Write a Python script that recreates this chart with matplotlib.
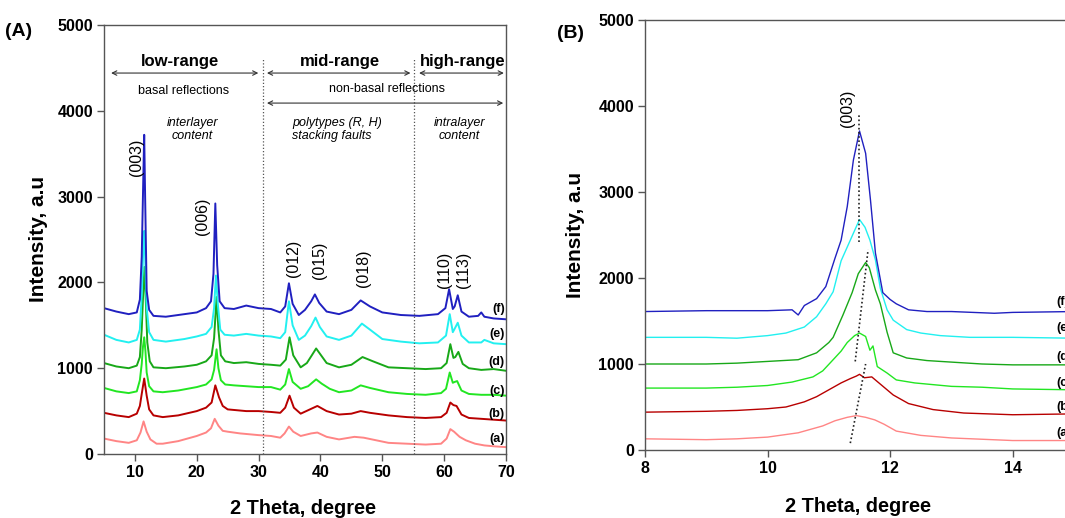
import matplotlib
matplotlib.use("Agg")
import matplotlib.pyplot as plt

plt.rcParams['font.family'] = ['Liberation Sans', 'DejaVu Sans']

# ---------------- data: panel A (full pattern) ----------------
series_labels = ['(a)', '(b)', '(c)', '(d)', '(e)', '(f)']
series_colors = ['#FF8585', '#B80000', '#22E622', '#18A818', '#22F0F0', '#2020C0']

fA_x = [5, 7, 9, 10.3, 10.8, 11.1, 11.35, 11.5, 11.65, 11.9, 12.3, 13, 15, 18, 20, 21.5, 22.3, 22.7, 23.0, 23.3, 23.7, 24.5, 26, 28, 30, 32, 33.5, 34.3, 34.9, 35.5, 36.5, 37.5, 38.5, 39.1, 39.8, 41, 43, 45, 46.5, 48, 50, 53, 56, 59, 60.2, 60.8, 61.4, 61.7, 62.2, 62.8, 64, 65.5, 66, 66.5, 68, 70]
fA_y = [1700, 1660, 1630, 1650, 1800, 2300, 3200, 3720, 3000, 1900, 1680, 1610, 1600, 1630, 1650, 1700, 1780, 2100, 2920, 2200, 1780, 1700, 1690, 1730, 1700, 1690, 1650, 1720, 1990, 1750, 1620, 1680, 1780, 1860, 1760, 1660, 1630, 1680, 1790, 1720, 1650, 1620, 1610, 1630, 1700, 1920, 1690, 1720, 1850, 1660, 1600, 1610, 1650, 1600, 1580, 1570]

eA_x = [5, 7, 9, 10.3, 10.8, 11.1, 11.35, 11.5, 11.65, 11.9, 12.3, 13, 15, 18, 20, 21.5, 22.4, 22.8, 23.1, 23.4, 23.8, 24.5, 26, 28, 30, 32, 33.5, 34.3, 34.9, 35.5, 36.5, 37.5, 38.5, 39.2, 39.9, 41, 43, 45, 46.7, 48, 50, 53, 56, 59, 60.3, 60.9, 61.4, 61.7, 62.2, 62.8, 64, 66, 66.5, 68, 70]
eA_y = [1390, 1330, 1300, 1330, 1450, 1850, 2400, 2600, 2300, 1700, 1420, 1330, 1310, 1340, 1370, 1400, 1480, 1700, 2080, 1750, 1450, 1390, 1380, 1400, 1380, 1370, 1350, 1420, 1780, 1500, 1330, 1380, 1490, 1590, 1480, 1370, 1330, 1380, 1520, 1450, 1340, 1310, 1290, 1300, 1380, 1630, 1420, 1460, 1530, 1380, 1300, 1300, 1330, 1290, 1280]

dA_x = [5, 7, 9, 10.3, 10.8, 11.1, 11.35, 11.55, 11.75, 12.0, 12.4, 13, 15, 18, 20, 21.5, 22.4, 22.8, 23.2, 23.5, 23.9, 24.6, 26, 28, 30, 32, 33.5, 34.4, 35.0, 35.6, 36.8, 37.8, 38.6, 39.3, 40.0, 41, 43, 45, 46.8, 48.5, 51, 54, 57, 59.5, 60.4, 61.0, 61.5, 61.8, 62.3, 63.0, 64, 66, 68, 70]
dA_y = [1060, 1020, 1000, 1030, 1130, 1450, 1900, 2180, 1800, 1300, 1080, 1010, 1000, 1020, 1040, 1080, 1150, 1350, 1830, 1450, 1150, 1080, 1060, 1070, 1050, 1040, 1030, 1100, 1360, 1150, 1010, 1060, 1150, 1230, 1160, 1060, 1010, 1040, 1130, 1080, 1010, 1000, 990, 1000, 1060, 1280, 1120, 1130, 1190, 1050, 1000, 980, 990, 970]

cA_x = [5, 7, 9, 10.3, 10.8, 11.1, 11.3, 11.5, 11.7, 11.9, 12.3, 13, 14.5, 17, 20, 21.5, 22.4, 22.8, 23.2, 23.5, 23.9, 24.6, 26, 28, 30, 32, 33.5, 34.3, 34.9, 35.5, 36.8, 38, 39.3, 40.2, 41.5, 43, 45, 46.5, 48, 51, 54, 57, 59.5, 60.3, 60.9, 61.4, 61.7, 62.1, 62.8, 64, 66, 68, 70]
cA_y = [770, 730, 710, 730, 860, 1050, 1250, 1360, 1200, 950, 790, 730, 720, 740, 780, 810, 870, 980, 1220, 1000, 860, 810, 800, 790, 780, 780, 750, 810, 990, 840, 760, 790, 870, 820, 760, 720, 740, 800, 770, 720, 700, 690, 710, 760, 950, 830, 840, 850, 740, 700, 690, 690, 680]

bA_x = [5, 7, 9, 10.3, 10.8, 11.1, 11.5, 11.9, 12.3, 13, 14.5, 17, 20, 21.5, 22.4, 23.0, 23.6, 24.2, 25, 26.5, 28, 30, 32, 33.5, 34.3, 35.0, 35.7, 36.8, 38, 39.5, 41, 43, 45, 46.5, 48, 51, 54, 57, 59.5, 60.4, 61.0, 61.5, 62.0, 62.8, 64, 66, 68, 70]
bA_y = [480, 450, 430, 470, 560, 700, 880, 680, 520, 450, 430, 450, 500, 540, 600, 800, 660, 560, 520, 510, 500, 500, 490, 480, 540, 680, 540, 470, 510, 560, 500, 460, 470, 500, 480, 450, 430, 420, 430, 480, 600, 570, 560, 460, 420, 410, 400, 390]

aA_x = [5, 7, 9, 10.3, 10.9, 11.4, 11.9, 12.5, 13.5, 14.5, 17, 20, 21.5, 22.3, 22.9, 23.5, 24.2, 25, 27, 30, 32, 33.5, 34.2, 34.9, 35.6, 36.8, 38.5, 39.5, 41, 43, 45.5, 47, 49, 51, 54, 57, 59.5, 60.4, 61.0, 61.6, 62.5, 63.5, 65, 66.5, 68, 70]
aA_y = [180, 150, 130, 160, 250, 380, 260, 170, 120, 120, 150, 210, 250, 300, 410, 330, 270, 260, 240, 220, 210, 190, 240, 320, 260, 210, 240, 250, 200, 170, 200, 190, 160, 130, 120, 110, 120, 180, 290, 260, 200, 160, 120, 100, 90, 80]

A_xs = [aA_x, bA_x, cA_x, dA_x, eA_x, fA_x]
A_ys = [aA_y, bA_y, cA_y, dA_y, eA_y, fA_y]
A_label_y = [175, 466, 734, 1072, 1398, 1690]

peak_names = ['(003)', '(006)', '(012)', '(015)', '(018)', '(110)', '(113)']
peak_text_x = [10.2, 21.0, 35.6, 39.8, 47.0, 60.1, 63.2]
peak_text_y = [3454, 2765, 2284, 2261, 2168, 2145, 2145]

# ---------------- data: panel B (zoom of (003)) ----------------
fB_x = [8, 9, 10, 10.4, 10.5, 10.6, 10.8, 10.95, 11.1, 11.2, 11.3, 11.4, 11.5, 11.6, 11.68, 11.76, 11.88, 12.0, 12.1, 12.3, 12.6, 13, 13.7, 14, 15]
fB_y = [1610, 1620, 1620, 1630, 1570, 1680, 1760, 1900, 2230, 2440, 2830, 3370, 3710, 3450, 2900, 2290, 1830, 1750, 1700, 1630, 1610, 1610, 1590, 1600, 1610]

eB_x = [8, 9, 9.5, 10, 10.3, 10.6, 10.8, 10.95, 11.07, 11.2, 11.3, 11.4, 11.5, 11.59, 11.67, 11.76, 11.84, 11.95, 12.05, 12.27, 12.5, 12.82, 13.3, 14, 15]
eB_y = [1310, 1310, 1300, 1330, 1360, 1430, 1550, 1700, 1840, 2200, 2360, 2520, 2680, 2590, 2440, 2210, 1880, 1630, 1510, 1400, 1360, 1330, 1310, 1310, 1300]

dB_x = [8, 9, 9.5, 10, 10.5, 10.8, 11.0, 11.07, 11.23, 11.38, 11.48, 11.6, 11.66, 11.76, 11.84, 11.95, 12.05, 12.27, 12.6, 12.82, 13.5, 14, 15]
dB_y = [1000, 1000, 1010, 1030, 1050, 1130, 1250, 1310, 1570, 1830, 2050, 2180, 2120, 1860, 1700, 1370, 1130, 1070, 1040, 1030, 1000, 990, 990]

cB_x = [8, 9, 9.5, 10, 10.4, 10.74, 10.9, 11.07, 11.2, 11.3, 11.42, 11.5, 11.6, 11.67, 11.72, 11.79, 11.95, 12.1, 12.4, 13, 13.5, 14, 15]
cB_y = [720, 720, 730, 750, 790, 850, 920, 1050, 1150, 1250, 1330, 1360, 1320, 1160, 1210, 970, 895, 815, 780, 740, 730, 710, 700]

bB_x = [8, 9, 9.5, 10, 10.3, 10.6, 10.8, 11.0, 11.2, 11.35, 11.45, 11.5, 11.58, 11.7, 11.85, 12.05, 12.3, 12.7, 13.2, 14, 15]
bB_y = [440, 450, 460, 480, 500, 560, 620, 700, 780, 830, 860, 880, 840, 850, 760, 640, 540, 470, 430, 410, 420]

aB_x = [8, 9, 9.5, 10, 10.5, 10.9, 11.1, 11.3, 11.45, 11.6, 11.75, 11.9, 12.1, 12.5, 13, 14, 15]
aB_y = [130, 120, 130, 150, 200, 280, 340, 380, 400, 380, 350, 300, 220, 170, 140, 110, 110]

B_xs = [aB_x, bB_x, cB_x, dB_x, eB_x, fB_x]
B_ys = [aB_y, bB_y, cB_y, dB_y, eB_y, fB_y]
B_label_y = [198, 500, 779, 1081, 1419, 1720]

# dotted guide through the (003) maxima
trend_segments = [([11.35, 11.60], [80, 1000]),
                  ([11.43, 11.64], [1030, 2330]),
                  ([11.49, 11.49], [2420, 3900])]

# ---------------- figure ----------------
W, H = 1065, 518
fig = plt.figure(figsize=(W / 100, H / 100), dpi=100)

def px_axes(l, t, r, b):
    return [l / W, (H - b) / H, (r - l) / W, (b - t) / H]

axA = fig.add_axes(px_axes(104, 25, 506, 454))
axB = fig.add_axes(px_axes(645, 20, 1074, 450))

spine_col = '#555555'

for ax in (axA, axB):
    for s in ax.spines.values():
        s.set_color(spine_col)
        s.set_linewidth(1.0)
    ax.tick_params(direction='out', length=5, width=1.0, color=spine_col,
                   labelsize=11.5, pad=3)
    ax.set_ylim(0, 5000)
    ax.set_yticks([0, 1000, 2000, 3000, 4000, 5000])

# ---- panel A ----
for xs, ys, col in zip(A_xs, A_ys, series_colors):
    axA.plot(xs, ys, color=col, lw=1.4)
axA.set_xlim(5, 70)
axA.set_xticks([10, 20, 30, 40, 50, 60, 70])
for lab in axA.get_xticklabels() + axA.get_yticklabels():
    lab.set_fontweight('bold')

for lbl, y in zip(series_labels, A_label_y):
    axA.text(69.8, y, lbl, ha='right', va='center', fontsize=9, fontweight='bold')

for name, x, y in zip(peak_names, peak_text_x, peak_text_y):
    axA.text(x, y, name, rotation=90, ha='center', va='center', fontsize=11.5)

# region separators
for xv in (30.7, 55.2):
    axA.plot([xv, xv], [0, 4620], color='#555555', lw=0.9, ls=(0, (1, 1.6)))

arrow_kw = dict(arrowstyle='<->', color='#333333', lw=0.8, mutation_scale=8)
for x0, x1 in ((5.7, 30.4), (30.9, 55.0), (55.5, 70.1)):
    axA.annotate('', xy=(x1, 4440), xytext=(x0, 4440), arrowprops=arrow_kw,
                 annotation_clip=False)
axA.annotate('', xy=(70.0, 4090), xytext=(30.9, 4090), arrowprops=arrow_kw,
             annotation_clip=False)

for txt, x in (('low-range', 17.3), ('mid-range', 43.2), ('high-range', 63.0)):
    axA.text(x, 4580, txt, ha='center', va='center', fontsize=12, fontweight='bold')
axA.text(17.9, 4231, 'basal reflections', ha='center', va='center', fontsize=9)
axA.text(50.7, 4250, 'non-basal reflections', ha='center', va='center', fontsize=9)
axA.text(19.3, 3780, 'interlayer\ncontent', ha='center', va='center', fontsize=9,
         style='italic', linespacing=1.1)
axA.text(35.4, 3780, 'polytypes (R, H)\nstacking faults', ha='left', va='center',
         fontsize=9, style='italic', linespacing=1.1)
axA.text(62.5, 3780, 'intralayer\ncontent', ha='center', va='center', fontsize=9,
         style='italic', linespacing=1.1)

# ---- panel B ----
for xs, ys, col in zip(B_xs, B_ys, series_colors):
    axB.plot(xs, ys, color=col, lw=1.0)
for tx, ty in trend_segments:
    axB.plot(tx, ty, color='#222222', lw=1.2, ls=(0, (1, 1.5)))
axB.set_xlim(8, 15)
axB.set_xticks([8, 10, 12, 14])
for lab in axB.get_xticklabels() + axB.get_yticklabels():
    lab.set_fontweight('bold')
for lbl, y in zip(series_labels, B_label_y):
    axB.text(14.71, y, lbl, ha='left', va='center', fontsize=9, fontweight='bold',
             clip_on=False)
axB.text(11.3, 3977, '(003)', rotation=90, ha='center', va='center', fontsize=11.5)

# ---- axis titles & panel letters ----
fig.text(39 / W, 1 - 239 / H, 'Intensity, a.u', rotation=90, ha='center', va='center',
         fontsize=15, fontweight='bold')
fig.text(303 / W, 1 - 508 / H, '2 Theta, degree', ha='center', va='center',
         fontsize=14.3, fontweight='bold')
fig.text(576 / W, 1 - 235 / H, 'Intensity, a.u', rotation=90, ha='center', va='center',
         fontsize=15, fontweight='bold')
fig.text(858 / W, 1 - 507 / H, '2 Theta, degree', ha='center', va='center',
         fontsize=14.3, fontweight='bold')
fig.text(19 / W, 1 - 31 / H, '(A)', ha='center', va='center', fontsize=14, fontweight='bold')
fig.text(570 / W, 1 - 33 / H, '(B)', ha='center', va='center', fontsize=14, fontweight='bold')

fig.savefig('out.png', dpi=100)
